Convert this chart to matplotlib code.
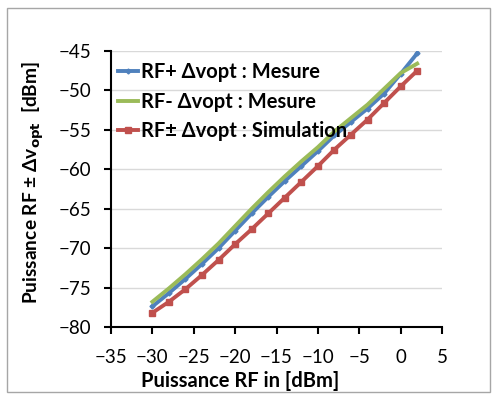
import matplotlib
matplotlib.use("Agg")
import matplotlib.pyplot as plt
from matplotlib.patches import Rectangle

x_vals = [-30, -28, -26, -24, -22, -20, -18, -16, -14, -12, -10, -8, -6, -4, -2, 0, 2]
rf_plus = [-77.4, -75.7, -73.9, -72.0, -70.0, -67.8, -65.6, -63.5, -61.5, -59.6, -57.7, -55.7, -54.0, -52.3, -50.4, -47.9, -45.3]
rf_minus = [-76.8, -75.1, -73.3, -71.4, -69.4, -67.2, -65.0, -62.9, -60.9, -59.0, -57.2, -55.2, -53.5, -51.8, -49.8, -47.8, -46.6]
rf_sim = [-78.2, -76.8, -75.2, -73.4, -71.5, -69.5, -67.6, -65.6, -63.6, -61.6, -59.6, -57.5, -55.6, -53.7, -51.6, -49.5, -47.5]
labels = ["RF+ \u0394vopt : Mesure", "RF- \u0394vopt : Mesure", "RF\u00b1 \u0394vopt : Simulation"]
xticks = [-35, -30, -25, -20, -15, -10, -5, 0, 5]
yticks = [-80, -75, -70, -65, -60, -55, -50, -45]

plt.rcParams['font.family'] = ['Lato', 'DejaVu Sans']

fig = plt.figure(figsize=(4.97, 3.97), dpi=100)
fig.patches.append(Rectangle((7/497, 1-392/397), 483/497, 384/397, transform=fig.transFigure,
                             fill=False, edgecolor='#a6a6a6', linewidth=1.0))
ax = fig.add_axes([111/497, 1-327/397, 331/497, 276/397])

ax.plot(x_vals, rf_plus, color='#4f81bd', lw=2.8, marker='D', ms=2.5, label=labels[0], zorder=3)
ax.plot(x_vals, rf_minus, color='#9bbb59', lw=2.8, label=labels[1], zorder=4)
ax.plot(x_vals, rf_sim, color='#c0504d', lw=2.8, marker='s', ms=4.5, label=labels[2], zorder=2)

ax.set_xlim(-35, 5)
ax.set_ylim(-80, -45)
ax.set_xticks(xticks)
ax.set_yticks(yticks)
ax.yaxis.grid(True, color='#d9d9d9', lw=1.0)
ax.set_axisbelow(True)
for s in ['top', 'right']:
    ax.spines[s].set_visible(False)
for s in ['left', 'bottom']:
    ax.spines[s].set_linewidth(1.5)
    ax.spines[s].set_color('black')
ax.tick_params(axis='both', direction='out', length=5, width=1.5, labelsize=13.5)
ax.tick_params(axis='x', pad=11)
ax.tick_params(axis='y', pad=9)

fig.text(240/497, 1-381/397, "Puissance RF in [dBm]", fontsize=14.5, fontweight='bold',
         ha='center', va='center')
fig.text(33/497, 1-183/397, "Puissance RF \u00b1 \u0394v$_{\\mathbf{opt}}$  [dBm]", fontsize=13.8,
         fontweight='bold', ha='center', va='center', rotation=90)

leg = ax.legend(loc='upper left', bbox_to_anchor=(0.02, 0.96), frameon=False,
                prop={'size': 14.5, 'weight': 'bold'}, handlelength=1.0, handletextpad=0.15,
                labelspacing=0.48, borderpad=0, borderaxespad=0)
leg.set_zorder(10)

fig.savefig("out.png", dpi=100)
